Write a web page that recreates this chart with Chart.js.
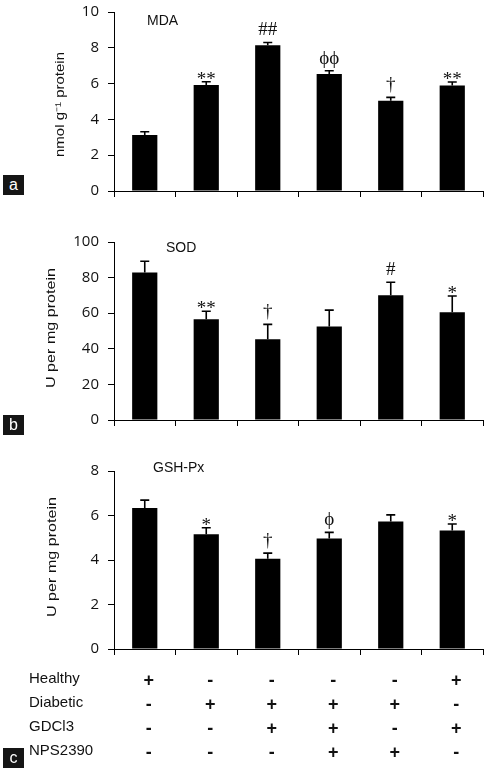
<!DOCTYPE html>
<html><head><meta charset="utf-8">
<script src="https://cdn.jsdelivr.net/npm/chart.js@4.4.1/dist/chart.umd.min.js"></script>
<style>
html,body{margin:0;padding:0;background:#fff;}
body{width:489px;height:772px;position:relative;overflow:hidden;}
canvas{position:absolute;left:0;}
.tag{position:absolute;left:3px;width:21px;height:20px;background:#151515;color:#fff;font:16px 'Liberation Sans',Arial,sans-serif;text-align:center;line-height:20px;}
</style></head><body>
<canvas id="cA" width="489" height="200" style="top:0px"></canvas>
<canvas id="cB" width="489" height="210" style="top:220px"></canvas>
<canvas id="cC" width="489" height="322" style="top:450px"></canvas>
<div class="tag" style="top:175px">a</div>
<div class="tag" style="top:415px">b</div>
<div class="tag" style="top:748px">c</div>
<script>
// ---- data ----
const categories = ['Healthy', 'Diabetic', 'Diabetic + GDCl3', 'Diabetic + GDCl3 + NPS2390', 'Diabetic + NPS2390', 'Healthy + GDCl3'];

const mdaValues = [3.13, 5.92, 8.14, 6.54, 5.04, 5.90];
const mdaErrors = [0.18, 0.18, 0.16, 0.18, 0.19, 0.19];
const mdaMarks  = ['', '**', '##', 'ϕϕ', '†', '**'];

const sodValues = [82.8, 56.6, 45.4, 52.5, 70.1, 60.6];
const sodErrors = [6.4, 4.5, 8.3, 9.2, 7.3, 9.1];
const sodMarks  = ['', '**', '†', '', '#', '*'];

const gshValues = [6.34, 5.16, 4.06, 4.97, 5.73, 5.33];
const gshErrors = [0.35, 0.29, 0.25, 0.27, 0.30, 0.29];
const gshMarks  = ['', '*', '†', 'ϕ', '', '*'];

const mdaTicks = [0, 2, 4, 6, 8, 10];
const sodTicks = [0, 20, 40, 60, 80, 100];
const gshTicks = [0, 2, 4, 6, 8];

const rowLabels = ['Healthy', 'Diabetic', 'GDCl3', 'NPS2390'];
const healthyRow  = ['+', '-', '-', '-', '-', '+'];
const diabeticRow = ['-', '+', '+', '+', '+', '-'];
const gdcl3Row    = ['-', '-', '+', '+', '-', '+'];
const nps2390Row  = ['-', '-', '-', '+', '+', '-'];

// ---- plugins ----
function makeExtras(errors, marks, title, dx, dy) {
  return {
    id: 'extras',
    afterDatasetsDraw(chart) {
      const ctx = chart.ctx, y = chart.scales.y;
      const meta = chart.getDatasetMeta(0);
      const vals = chart.data.datasets[0].data;
      ctx.save();
      meta.data.forEach((bar, i) => {
        const base = y.getPixelForValue(vals[i]);
        const top = y.getPixelForValue(vals[i] + errors[i]);
        ctx.strokeStyle = '#000';
        ctx.lineWidth = 1.6;
        ctx.beginPath();
        ctx.moveTo(bar.x, base); ctx.lineTo(bar.x, top);
        ctx.moveTo(bar.x - 4.5, top); ctx.lineTo(bar.x + 4.5, top);
        ctx.stroke();
        const m = marks[i];
        if (m) {
          ctx.fillStyle = '#111';
          ctx.font = "19px 'Liberation Serif', 'DejaVu Serif', serif";
          ctx.textAlign = 'center';
          ctx.textBaseline = 'alphabetic';
          const off = m.includes('*') ? 3 : -7;
          ctx.fillText(m, bar.x, top + off);
        }
      });
      ctx.fillStyle = '#111';
      ctx.font = "14px 'Liberation Sans', Arial, sans-serif";
      ctx.textAlign = 'left';
      ctx.textBaseline = 'alphabetic';
      ctx.fillText(title, chart.chartArea.left + dx, chart.chartArea.top + dy);
      ctx.restore();
    }
  };
}

// y-axis title: narrow, elongated lettering as in the source figure
function makeYTitle(text, cx, dyCenter, fontSize, length) {
  return {
    id: 'ytitle',
    afterDraw(chart) {
      const ctx = chart.ctx, ca = chart.chartArea;
      ctx.save();
      ctx.font = fontSize + "px 'Liberation Sans', Arial, sans-serif";
      const w = ctx.measureText(text).width;
      ctx.translate(cx, (ca.top + ca.bottom) / 2 + dyCenter);
      ctx.rotate(-Math.PI / 2);
      ctx.scale(length / w, 1);
      ctx.fillStyle = '#111';
      ctx.textAlign = 'center';
      ctx.textBaseline = 'middle';
      ctx.fillText(text, 0, 0);
      ctx.restore();
    }
  };
}

function makeTable(labels, rows) {
  return {
    id: 'table',
    afterDraw(chart) {
      const ctx = chart.ctx, x = chart.scales.x, ca = chart.chartArea;
      ctx.save();
      ctx.fillStyle = '#111';
      ctx.textBaseline = 'alphabetic';
      rows.forEach((row, r) => {
        const yb = ca.bottom + 34.2 + r * 24;
        ctx.font = "15px 'Liberation Sans', Arial, sans-serif";
        ctx.textAlign = 'left';
        ctx.fillText(labels[r], 29, yb);
        ctx.font = "bold 18px 'Liberation Sans', Arial, sans-serif";
        ctx.textAlign = 'center';
        row.forEach((s, i) => ctx.fillText(s, x.getPixelForValue(i) + 4, yb + 3));
      });
      ctx.restore();
    }
  };
}

function yAxis(ticksArr) {
  return {
    min: ticksArr[0], max: ticksArr[ticksArr.length - 1],
    afterBuildTicks(s) { s.ticks = ticksArr.map(v => ({ value: v })); },
    ticks: { color: '#111', font: { family: "'Open Sans', 'Noto Sans', sans-serif", size: 15 }, padding: 9 },
    border: { color: '#000', width: 1 },
    grid: { drawOnChartArea: false, drawTicks: true, tickLength: 6, color: '#000' },
    title: { display: false },
    afterFit(s) { s.width = 114; s.paddingTop = 0; s.paddingBottom = 0; }
  };
}

function makeChart(id, values, yCfg, padding, plugins) {
  return new Chart(document.getElementById(id), {
    type: 'bar',
    data: { labels: categories, datasets: [{ data: values, backgroundColor: '#000', borderWidth: 0,
      barPercentage: 0.41, categoryPercentage: 1 }] },
    options: {
      responsive: false, animation: false,
      layout: { padding },
      plugins: { legend: { display: false }, tooltip: { enabled: false } },
      scales: {
        x: { offset: true,
          grid: { offset: true, drawOnChartArea: false, drawTicks: true, tickLength: 6, color: '#000' },
          border: { color: '#000', width: 1 },
          ticks: { display: false } },
        y: yCfg
      }
    },
    plugins
  });
}

makeChart('cA', mdaValues, yAxis(mdaTicks),
  { left: 0, right: 6, top: 12, bottom: 3 },
  [makeExtras(mdaErrors, mdaMarks, 'MDA', 33, 13),
   makeYTitle('nmol g⁻¹ protein', 61, 3, 12, 105)]);

makeChart('cB', sodValues, yAxis(sodTicks),
  { left: 0, right: 6, top: 22, bottom: 4 },
  [makeExtras(sodErrors, sodMarks, 'SOD', 52, 10),
   makeYTitle('U per mg protein', 51.5, -3, 12, 120)]);

makeChart('cC', gshValues, yAxis(gshTicks),
  { left: 0, right: 6, top: 21, bottom: 117 },
  [makeExtras(gshErrors, gshMarks, 'GSH-Px', 39, 1),
   makeYTitle('U per mg protein', 52.5, -3, 12, 120),
   makeTable(rowLabels, [healthyRow, diabeticRow, gdcl3Row, nps2390Row])]);
</script>
</body></html>
